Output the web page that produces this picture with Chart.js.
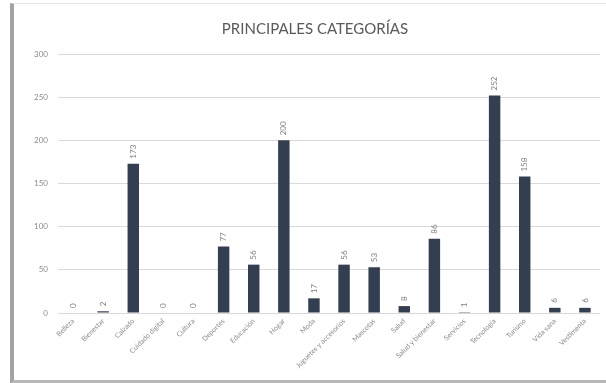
<!DOCTYPE html>
<html>
<head>
<meta charset="utf-8">
<script src="https://cdn.jsdelivr.net/npm/chart.js@4/dist/chart.umd.min.js"></script>
<style>
  html, body { margin: 0; padding: 0; background: #ffffff; }
  #wrap { position: relative; width: 606px; height: 383px; overflow: hidden; }
  #frame { position: absolute; left: 10px; top: 3px; width: 600px; height: 376px;
           border-left: 4px solid #a3a3a3; border-top: 1px solid #e3e3e3; border-bottom: 4px solid #b8b8b8;
           background: #ffffff; }
  canvas { position: absolute; left: 0; top: 0; }
</style>
</head>
<body>
<div id="wrap">
  <div id="frame"></div>
  <canvas id="c" width="606" height="383"></canvas>
</div>
<script>
const chartTitle = "PRINCIPALES CATEGORÍAS";
const categories = [
  "Belleza", "Bienestar", "Calzado", "Cuidado digital", "Cultura", "Deportes",
  "Educación", "Hogar", "Moda", "Juguetes y accesorios", "Mascotas", "Salud",
  "Salud y bienestar", "Servicios", "Tecnología", "Turismo", "Vida sana", "Vestimenta"
];
const values = [0, 2, 173, 0, 0, 77, 56, 200, 17, 56, 53, 8, 86, 1, 252, 158, 6, 6];
const yTicks = [0, 50, 100, 150, 200, 250, 300];

const barLabels = {
  id: 'barLabels',
  afterDatasetsDraw(chart) {
    const ctx = chart.ctx;
    const meta = chart.getDatasetMeta(0);
    ctx.save();
    ctx.fillStyle = '#7f7f7f';
    ctx.font = '8px Lato, "Liberation Sans", sans-serif';
    ctx.textAlign = 'left';
    ctx.textBaseline = 'middle';
    meta.data.forEach((bar, i) => {
      ctx.save();
      ctx.translate(bar.x, bar.y - 5);
      ctx.rotate(-Math.PI / 2);
      ctx.fillText(String(values[i]), 0, 0);
      ctx.restore();
    });
    ctx.restore();
  }
};

new Chart(document.getElementById('c'), {
  type: 'bar',
  data: {
    labels: categories,
    datasets: [{
      data: values,
      backgroundColor: '#333f50',
      borderWidth: 0,
      categoryPercentage: 1,
      barPercentage: 0.38
    }]
  },
  options: {
    responsive: false,
    animation: false,
    devicePixelRatio: 1,
    layout: { padding: { left: 30, right: 6, top: 0, bottom: 8 } },
    plugins: {
      legend: { display: false },
      tooltip: { enabled: false },
      title: {
        display: true,
        text: chartTitle,
        color: '#595959',
        font: { family: 'Lato, "Liberation Sans", sans-serif', size: 15, weight: 'normal' },
        padding: { top: 20, bottom: 16 }
      }
    },
    scales: {
      x: {
        grid: { display: false, drawTicks: false },
        border: { display: false },
        ticks: {
          color: '#8c8c8c',
          font: { family: 'Lato, "Liberation Sans", sans-serif', size: 7 },
          minRotation: 45, maxRotation: 45,
          autoSkip: false,
          padding: 4
        },
        afterFit(scale) { scale.height = 62; }
      },
      y: {
        min: 0, max: 300,
        afterBuildTicks(scale) { scale.ticks = yTicks.map(v => ({ value: v })); },
        grid: { color: '#d9d9d9', drawTicks: false, lineWidth: 1 },
        border: { display: false },
        ticks: {
          color: '#8c8c8c',
          font: { family: 'Lato, "Liberation Sans", sans-serif', size: 8 },
          padding: 10
        },
        afterFit(scale) { scale.width = 28; }
      }
    }
  },
  plugins: [barLabels]
});
</script>
</body>
</html>
